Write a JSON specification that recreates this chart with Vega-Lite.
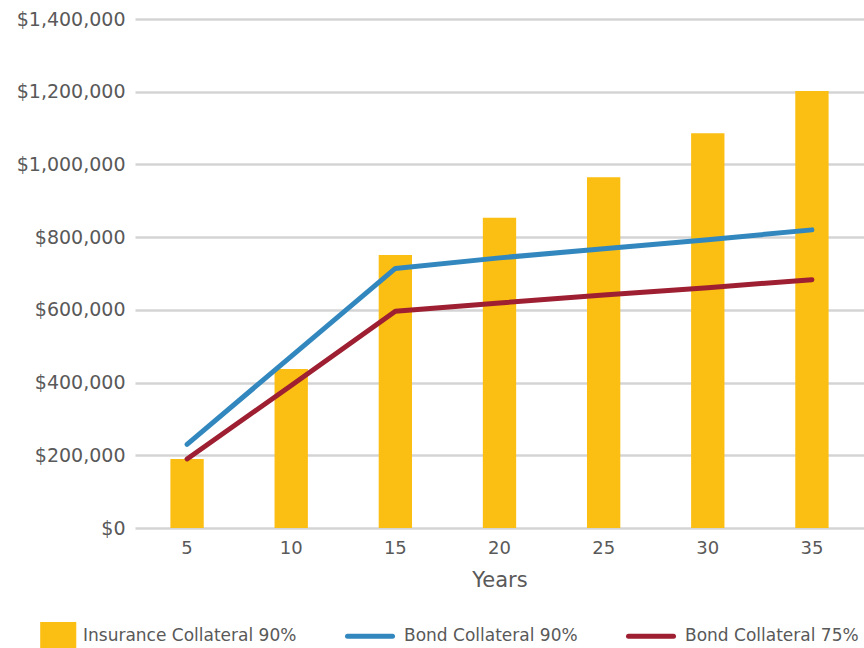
{
  "$schema": "https://vega.github.io/schema/vega-lite/v6.json",
  "width": 729,
  "height": 509,
  "autosize": {"type": "none"},
  "padding": {"left": 135, "top": 19, "right": 0, "bottom": 120},
  "background": "white",
  "config": {
    "view": {"stroke": null},
    "font": "DejaVu Sans",
    "axis": {"labelFont": "DejaVu Sans", "titleFont": "DejaVu Sans", "labelColor": "#595959", "titleColor": "#595959", "titleFontWeight": "normal"},
    "legend": {"labelFont": "DejaVu Sans", "labelColor": "#595959"}
  },
  "data": {
    "values": [
      {"year": "5", "series": "Insurance Collateral 90%", "value": 190000},
      {"year": "10", "series": "Insurance Collateral 90%", "value": 437000},
      {"year": "15", "series": "Insurance Collateral 90%", "value": 751000},
      {"year": "20", "series": "Insurance Collateral 90%", "value": 853000},
      {"year": "25", "series": "Insurance Collateral 90%", "value": 965000},
      {"year": "30", "series": "Insurance Collateral 90%", "value": 1086000},
      {"year": "35", "series": "Insurance Collateral 90%", "value": 1202000},
      {"year": "5", "series": "Bond Collateral 90%", "value": 230000},
      {"year": "10", "series": "Bond Collateral 90%", "value": 472000},
      {"year": "15", "series": "Bond Collateral 90%", "value": 714000},
      {"year": "20", "series": "Bond Collateral 90%", "value": 743000},
      {"year": "25", "series": "Bond Collateral 90%", "value": 768000},
      {"year": "30", "series": "Bond Collateral 90%", "value": 793000},
      {"year": "35", "series": "Bond Collateral 90%", "value": 820000},
      {"year": "5", "series": "Bond Collateral 75%", "value": 190000},
      {"year": "10", "series": "Bond Collateral 75%", "value": 392000},
      {"year": "15", "series": "Bond Collateral 75%", "value": 596000},
      {"year": "20", "series": "Bond Collateral 75%", "value": 619000},
      {"year": "25", "series": "Bond Collateral 75%", "value": 641000},
      {"year": "30", "series": "Bond Collateral 75%", "value": 661000},
      {"year": "35", "series": "Bond Collateral 75%", "value": 683000}
    ]
  },
  "encoding": {
    "x": {
      "field": "year",
      "type": "ordinal",
      "sort": null,
      "scale": {"paddingInner": 0.68, "paddingOuter": 0.34},
      "axis": {
        "title": "Years",
        "labelAngle": 0,
        "labelFontSize": 18,
        "labelPadding": 11,
        "titleFontSize": 21,
        "titlePadding": 12,
        "domain": false,
        "ticks": false,
        "grid": false
      }
    },
    "y": {
      "field": "value",
      "type": "quantitative",
      "scale": {"domain": [0, 1400000], "nice": false},
      "axis": {
        "title": null,
        "values": [0, 200000, 400000, 600000, 800000, 1000000, 1200000, 1400000],
        "format": "$,.0f",
        "labelFontSize": 19,
        "labelPadding": 10,
        "domain": false,
        "ticks": false,
        "grid": true,
        "gridColor": "#d4d4d4",
        "gridWidth": 2.5
      }
    },
    "color": {
      "field": "series",
      "type": "nominal",
      "scale": {
        "domain": ["Insurance Collateral 90%", "Bond Collateral 90%", "Bond Collateral 75%"],
        "range": ["#FBBE12", "#3288BE", "#9E1F31"]
      },
      "legend": {
        "title": null,
        "orient": "none",
        "direction": "horizontal",
        "legendX": -111,
        "legendY": 592,
        "labelFontSize": 17,
        "labelLimit": 400,
        "labelBaseline": "middle",
        "symbolSize": 2025,
        "labelOffset": 9,
        "columnPadding": 40,
        "encode": {
          "symbols": {
            "update": {
              "shape": {"signal": "datum.index === 0 ? 'M-0.28,-0.52H1.1V0.52H-0.28Z' : 'M-1,-0.52M-1,0.52M-1,0L1,0'"},
              "fill": {"signal": "datum.index === 0 ? '#FBBE12' : 'transparent'"},
              "stroke": {"signal": "datum.index === 0 ? 'transparent' : (datum.index === 1 ? '#3288BE' : '#9E1F31')"},
              "strokeWidth": {"value": 5},
              "strokeCap": {"value": "round"},
              "opacity": {"value": 1}
            }
          }
        }
      }
    }
  },
  "layer": [
    {
      "transform": [{"filter": "datum.series === 'Insurance Collateral 90%'"}],
      "mark": {"type": "bar"}
    },
    {
      "transform": [{"filter": "datum.series !== 'Insurance Collateral 90%'"}],
      "mark": {"type": "line", "strokeWidth": 5, "strokeCap": "round", "strokeJoin": "round"}
    }
  ]
}
